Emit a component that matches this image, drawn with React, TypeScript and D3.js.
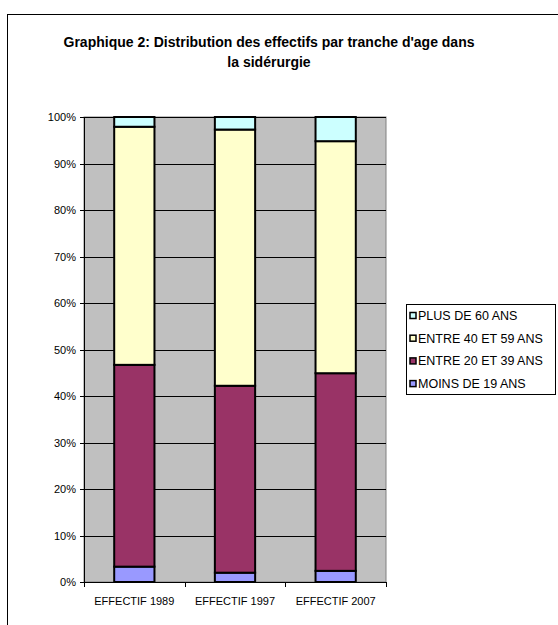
import React from "react";
import * as d3 from "d3";

const categories = ["EFFECTIF 1989", "EFFECTIF 1997", "EFFECTIF 2007"];
const seriesNames = ["MOINS DE 19 ANS", "ENTRE 20 ET 39 ANS", "ENTRE 40 ET 59 ANS", "PLUS DE 60 ANS"];
const moins19 = [3.3, 2.0, 2.4];
const entre20_39 = [43.4, 40.2, 42.5];
const entre40_59 = [51.2, 55.1, 49.9];
const plus60 = [2.1, 2.7, 5.2];
const yTicks = [0, 10, 20, 30, 40, 50, 60, 70, 80, 90, 100];
const colors = ["#9999FF", "#993366", "#FFFFCC", "#CCFFFF"];

const W = 558, H = 625;
const plot = { left: 84, right: 386, top: 117, bottom: 582 };
const font = "'Liberation Sans', Arial, sans-serif";

export default function App() {
  const seriesVals = [moins19, entre20_39, entre40_59, plus60];
  const rows = categories.map((c, i) => {
    const r: any = { cat: c };
    seriesNames.forEach((s, j) => (r[s] = seriesVals[j][i]));
    return r;
  });
  const stacked = d3.stack<any>().keys(seriesNames).offset(d3.stackOffsetExpand)(rows);
  const x = d3.scaleBand().domain(categories).range([plot.left, plot.right]).paddingInner(0.6).paddingOuter(0.3);
  const xc = d3.scaleBand().domain(categories).range([plot.left, plot.right]);
  const y = d3.scaleLinear().domain([0, 1]).range([plot.bottom, plot.top]);

  const legendOrder = [3, 2, 1, 0];
  return (
    <svg width={W} height={H} style={{ position: "absolute", left: 0, top: 0 }}>
      <rect x={0} y={0} width={W} height={H} fill="#fff" />
      <rect x={7.5} y={14.5} width={W + 10} height={H + 10} fill="#fff" stroke="#000" strokeWidth={1} />
      <text x={269} y={47} textAnchor="middle" fontFamily={font} fontSize={14} fontWeight="bold">
        Graphique 2: Distribution des effectifs par tranche d'age dans
      </text>
      <text x={269} y={67} textAnchor="middle" fontFamily={font} fontSize={14} fontWeight="bold">
        la sidérurgie
      </text>
      <rect x={plot.left} y={plot.top} width={plot.right - plot.left} height={plot.bottom - plot.top} fill="#C0C0C0" stroke="#808080" strokeWidth={1} />
      {yTicks.map((t) => (
        <g key={t}>
          {t > 0 && (
            <line x1={plot.left} x2={plot.right} y1={Math.round(y(t / 100)) + 0.5} y2={Math.round(y(t / 100)) + 0.5} stroke="#000" strokeWidth={1} />
          )}
          <line x1={plot.left - 4} x2={plot.left} y1={Math.round(y(t / 100)) + 0.5} y2={Math.round(y(t / 100)) + 0.5} stroke="#000" />
          <text x={plot.left - 8} y={y(t / 100) + 4} textAnchor="end" fontFamily={font} fontSize={11}>
            {t}%
          </text>
        </g>
      ))}
      <line x1={plot.left + 0.5} x2={plot.left + 0.5} y1={plot.top} y2={plot.bottom} stroke="#000" />
      <line x1={plot.left} x2={plot.right} y1={plot.bottom + 0.5} y2={plot.bottom + 0.5} stroke="#000" />
      {categories.map((c) => (
        <line key={c} x1={Math.round(xc(c)! + xc.bandwidth()) + 0.5} x2={Math.round(xc(c)! + xc.bandwidth()) + 0.5} y1={plot.bottom} y2={plot.bottom + 5} stroke="#000" />
      ))}
      <line x1={plot.left + 0.5} x2={plot.left + 0.5} y1={plot.bottom} y2={plot.bottom + 5} stroke="#000" />
      {stacked.map((s, j) => (
        <g key={s.key}>
          {s.map((d, i) => (
            <rect key={i} x={x(categories[i])} y={y(d[1])} width={x.bandwidth()} height={y(d[0]) - y(d[1])} fill={colors[j]} stroke="#000" strokeWidth={2} />
          ))}
        </g>
      ))}
      {categories.map((c) => (
        <text key={c} x={xc(c)! + xc.bandwidth() / 2} y={605} textAnchor="middle" fontFamily={font} fontSize={11}>
          {c}
        </text>
      ))}
      <rect x={406.5} y={304.5} width={149} height={90} fill="#fff" stroke="#000" />
      {legendOrder.map((j, k) => (
        <g key={j}>
          <rect x={410} y={312.5 + k * 22.7} width={6} height={6} fill={colors[j]} stroke="#000" strokeWidth={1.5} />
          <text x={418} y={320 + k * 22.7} fontFamily={font} fontSize={12.5}>
            {seriesNames[j]}
          </text>
        </g>
      ))}
    </svg>
  );
}
